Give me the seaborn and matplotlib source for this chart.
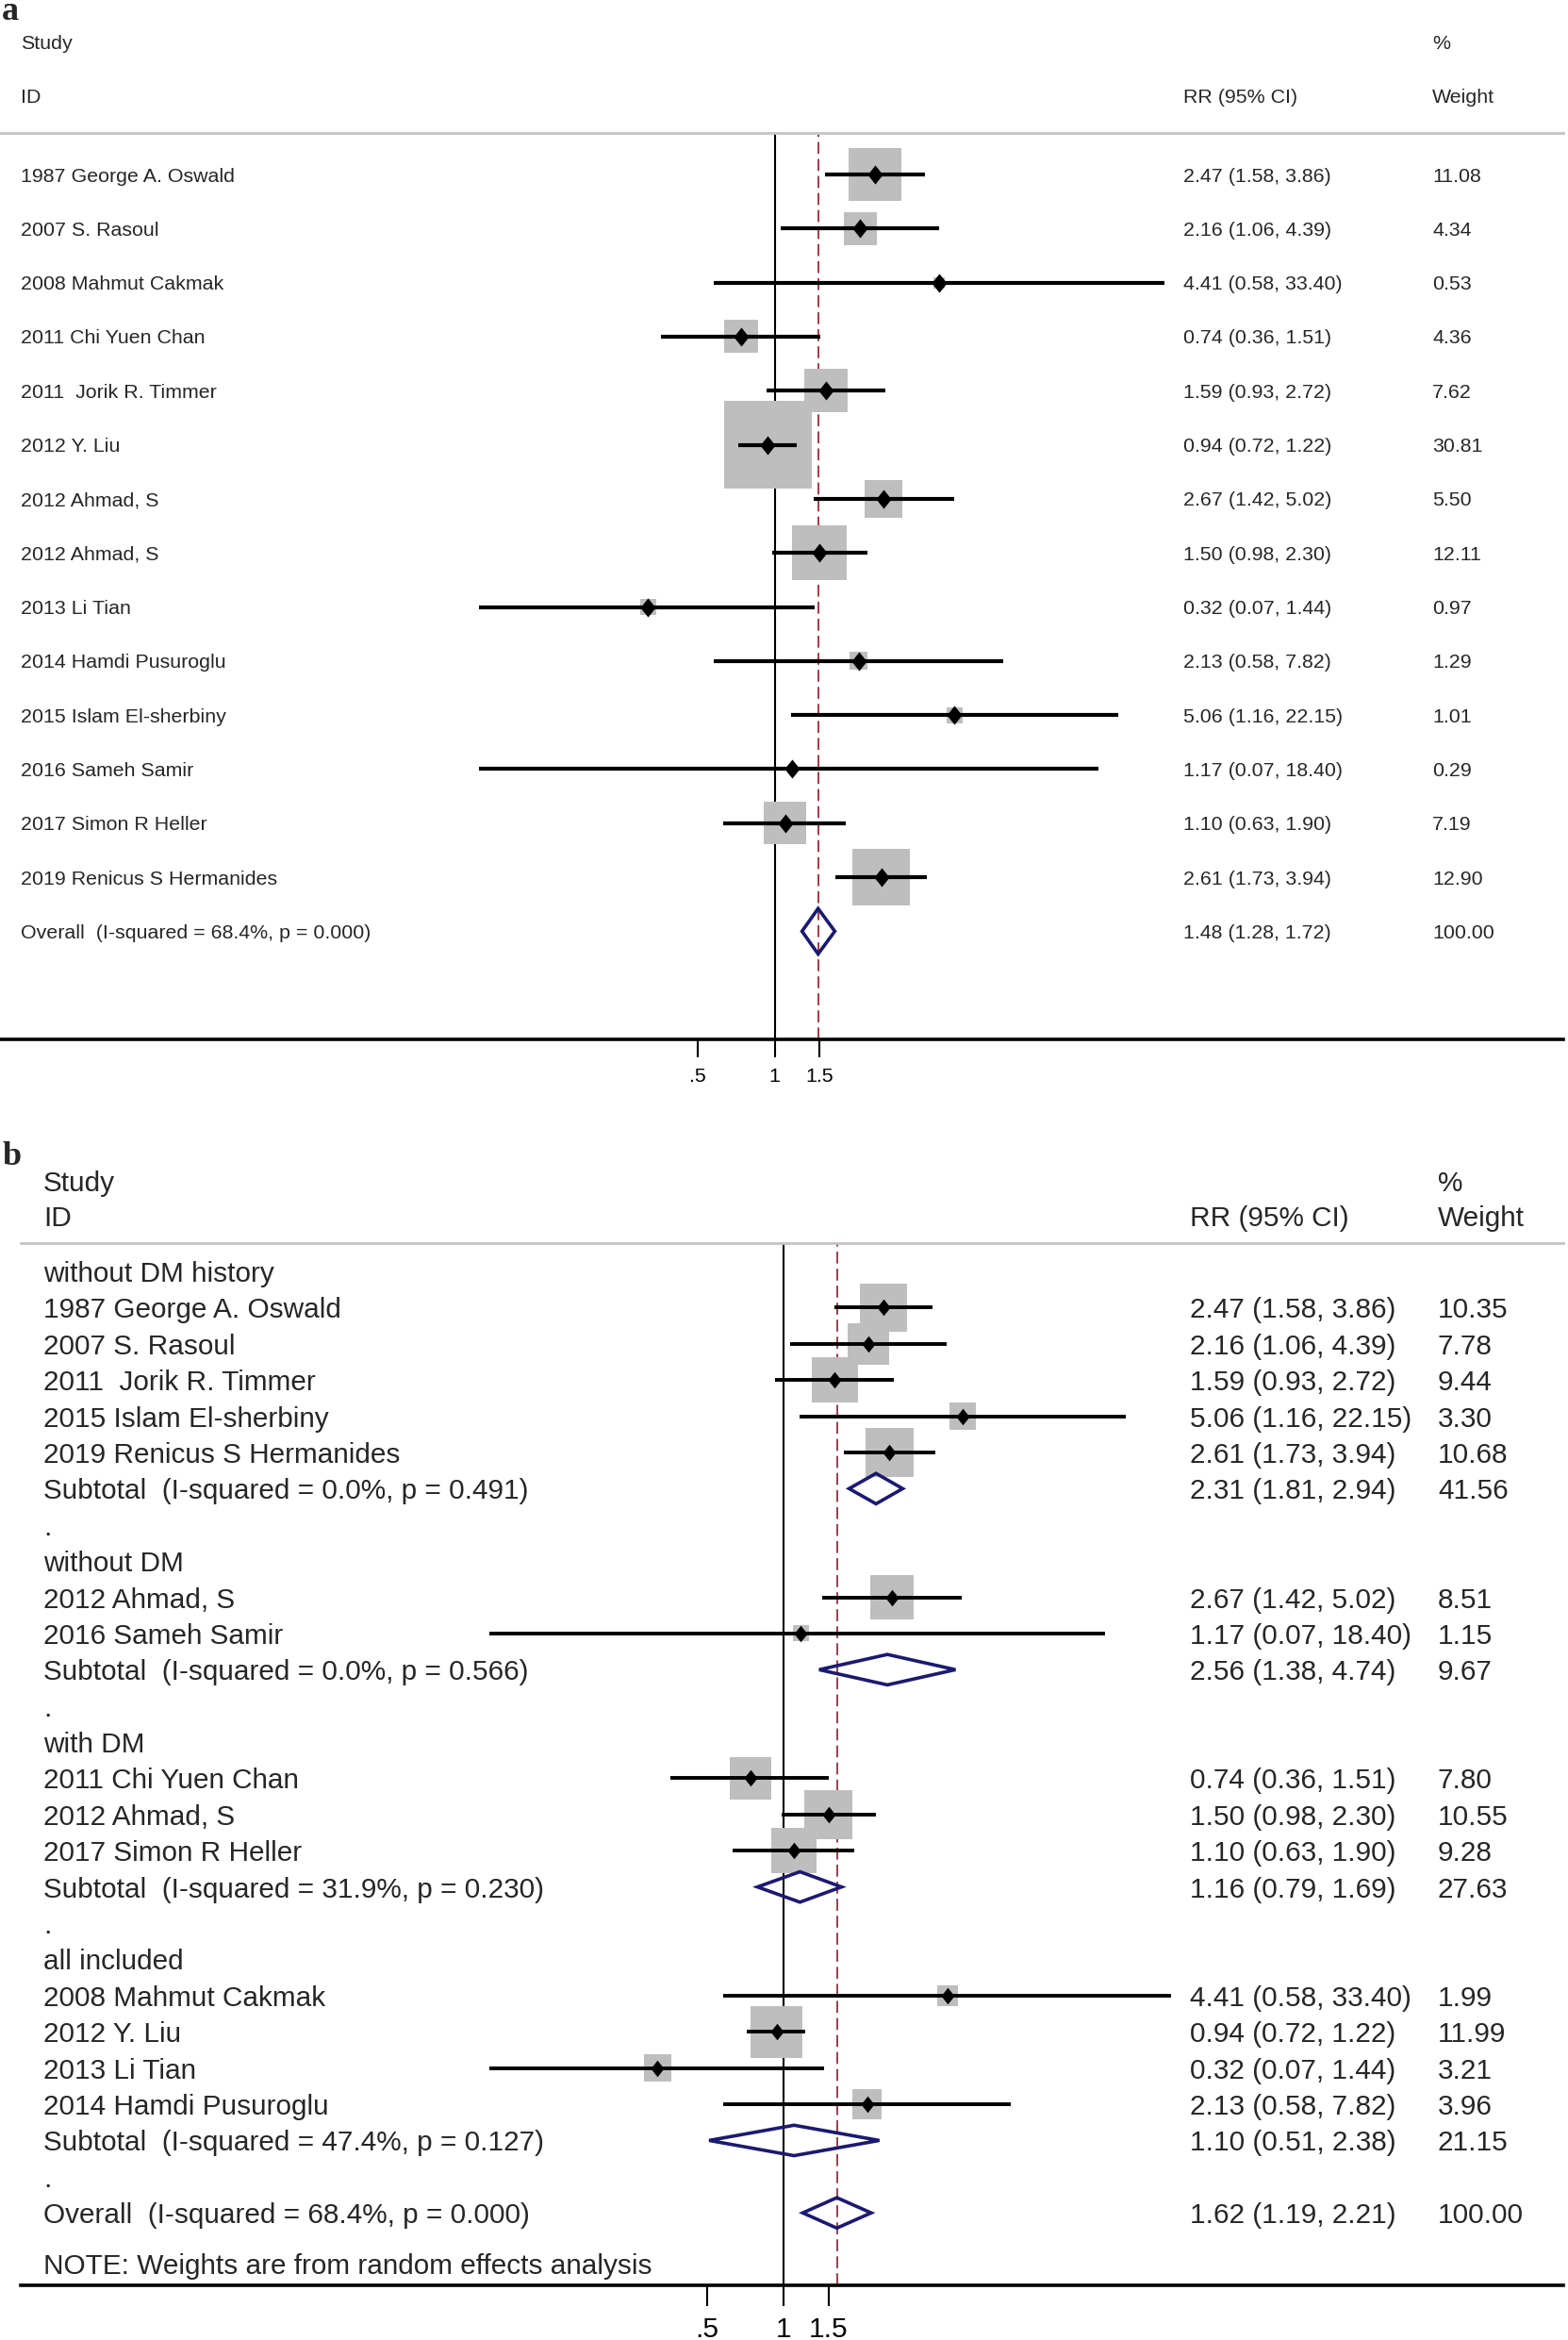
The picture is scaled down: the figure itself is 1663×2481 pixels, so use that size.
import numpy as np
import pandas as pd
import seaborn as sns
import matplotlib.pyplot as plt
from matplotlib.patches import Polygon
from matplotlib.transforms import blended_transform_factory

# ---- panel a: all studies ----
studies_a = ["1987 George A. Oswald", "2007 S. Rasoul", "2008 Mahmut Cakmak",
             "2011 Chi Yuen Chan", "2011  Jorik R. Timmer", "2012 Y. Liu",
             "2012 Ahmad, S", "2012 Ahmad, S", "2013 Li Tian", "2014 Hamdi Pusuroglu",
             "2015 Islam El-sherbiny", "2016 Sameh Samir", "2017 Simon R Heller",
             "2019 Renicus S Hermanides"]
rr_a = [2.47, 2.16, 4.41, 0.74, 1.59, 0.94, 2.67, 1.50, 0.32, 2.13, 5.06, 1.17, 1.10, 2.61]
lo_a = [1.58, 1.06, 0.58, 0.36, 0.93, 0.72, 1.42, 0.98, 0.07, 0.58, 1.16, 0.07, 0.63, 1.73]
hi_a = [3.86, 4.39, 33.40, 1.51, 2.72, 1.22, 5.02, 2.30, 1.44, 7.82, 22.15, 18.40, 1.90, 3.94]
wt_a = [11.08, 4.34, 0.53, 4.36, 7.62, 30.81, 5.50, 12.11, 0.97, 1.29, 1.01, 0.29, 7.19, 12.90]
overall_label_a = "Overall  (I-squared = 68.4%, p = 0.000)"
overall_a = [1.48, 1.28, 1.72, 100.00]

# ---- panel b: by subgroup ----
groups_b = ["without DM history", "without DM", "with DM", "all included"]
group_of_b = (["without DM history"] * 5 + ["without DM"] * 2 + ["with DM"] * 3
              + ["all included"] * 4)
studies_b = ["1987 George A. Oswald", "2007 S. Rasoul", "2011  Jorik R. Timmer",
             "2015 Islam El-sherbiny", "2019 Renicus S Hermanides",
             "2012 Ahmad, S", "2016 Sameh Samir",
             "2011 Chi Yuen Chan", "2012 Ahmad, S", "2017 Simon R Heller",
             "2008 Mahmut Cakmak", "2012 Y. Liu", "2013 Li Tian", "2014 Hamdi Pusuroglu"]
rr_b = [2.47, 2.16, 1.59, 5.06, 2.61, 2.67, 1.17, 0.74, 1.50, 1.10, 4.41, 0.94, 0.32, 2.13]
lo_b = [1.58, 1.06, 0.93, 1.16, 1.73, 1.42, 0.07, 0.36, 0.98, 0.63, 0.58, 0.72, 0.07, 0.58]
hi_b = [3.86, 4.39, 2.72, 22.15, 3.94, 5.02, 18.40, 1.51, 2.30, 1.90, 33.40, 1.22, 1.44, 7.82]
wt_b = [10.35, 7.78, 9.44, 3.30, 10.68, 8.51, 1.15, 7.80, 10.55, 9.28, 1.99, 11.99, 3.21, 3.96]
sub_i2 = ["0.0%", "0.0%", "31.9%", "47.4%"]
sub_p = ["0.491", "0.566", "0.230", "0.127"]
sub_rr = [2.31, 2.56, 1.16, 1.10]
sub_lo = [1.81, 1.38, 0.79, 0.51]
sub_hi = [2.94, 4.74, 1.69, 2.38]
sub_wt = [41.56, 9.67, 27.63, 21.15]
overall_label_b = "Overall  (I-squared = 68.4%, p = 0.000)"
overall_b = [1.62, 1.19, 2.21, 100.00]
note_b = "NOTE: Weights are from random effects analysis"

tick_vals = [0.5, 1, 1.5]
tick_labels = [".5", "1", "1.5"]

SQ_COLOR = "#bebebe"
NAVY = "#1a1a72"
RED = "#9e2a3a"
W, H = 1663, 2481
FS_A, FS_B = 15.4, 21.4


def ci_text(r, l, h):
    return f"{r:.2f} ({l:.2f}, {h:.2f})"


# rows of panel a
rows_a = pd.DataFrame({"label": studies_a, "rr": rr_a, "lo": lo_a, "hi": hi_a, "wt": wt_a})
rows_a["row"] = np.arange(len(rows_a))
summ_a = pd.DataFrame({"label": [overall_label_a], "rr": [overall_a[0]],
                       "lo": [overall_a[1]], "hi": [overall_a[2]], "wt": [overall_a[3]],
                       "row": [len(rows_a)]})
text_a = [(r.row, r.label, ci_text(r.rr, r.lo, r.hi), f"{r.wt:.2f}")
          for r in pd.concat([rows_a, summ_a]).itertuples()]

# rows of panel b
study_rows, summ_rows, text_b = [], [], []
df_b = pd.DataFrame({"group": group_of_b, "label": studies_b, "rr": rr_b,
                     "lo": lo_b, "hi": hi_b, "wt": wt_b})
r = 0
for gi, g in enumerate(groups_b):
    text_b.append((r, g, "", ""))
    r += 1
    for s in df_b[df_b.group == g].itertuples():
        study_rows.append(dict(row=r, rr=s.rr, lo=s.lo, hi=s.hi, wt=s.wt))
        text_b.append((r, s.label, ci_text(s.rr, s.lo, s.hi), f"{s.wt:.2f}"))
        r += 1
    lab = f"Subtotal  (I-squared = {sub_i2[gi]}, p = {sub_p[gi]})"
    summ_rows.append(dict(row=r, rr=sub_rr[gi], lo=sub_lo[gi], hi=sub_hi[gi]))
    text_b.append((r, lab, ci_text(sub_rr[gi], sub_lo[gi], sub_hi[gi]), f"{sub_wt[gi]:.2f}"))
    r += 1
    text_b.append((r, ".", "", ""))
    r += 1
summ_rows.append(dict(row=r, rr=overall_b[0], lo=overall_b[1], hi=overall_b[2]))
text_b.append((r, overall_label_b, ci_text(*overall_b[:3]), f"{overall_b[3]:.2f}"))
note_row = r + 1.4
rows_b = pd.DataFrame(study_rows)
summ_b = pd.DataFrame(summ_rows)

sns.set_theme(style="white")
plt.rcParams["font.family"] = ["Liberation Sans", "DejaVu Sans"]

fig = plt.figure(figsize=(W / 100, H / 100), dpi=100)


def draw_panel(ax, rows, summ, ref, fs, k_sq, dia_s, lw_ci, tick_len):
    d = rows.copy()
    d["x"] = np.log(d.rr)
    d["s"] = (k_sq * np.sqrt(d.wt) * 0.72) ** 2
    ax.axvline(0, color="black", lw=1.5, zorder=1)
    ax.axvline(np.log(ref), color=RED, lw=1.3, ls=(0, (7, 3)), zorder=1)
    sns.scatterplot(data=d, x="x", y="row", s=d["s"].values, marker="s",
                    color=SQ_COLOR, linewidth=0, legend=False, ax=ax, zorder=2)
    ax.hlines(d.row, np.log(d.lo), np.log(d.hi), color="black", lw=lw_ci, zorder=3)
    dverts = [(0, 1), (0.8, 0), (0, -1), (-0.8, 0), (0, 1)]
    sns.scatterplot(data=d, x="x", y="row", s=dia_s, marker=dverts,
                    color="black", linewidth=0, legend=False, ax=ax, zorder=4)
    for s in summ.itertuples():
        xs = np.log([s.lo, s.rr, s.hi, s.rr])
        ys = [s.row, s.row - 0.42, s.row, s.row + 0.42]
        ax.add_patch(Polygon(list(zip(xs, ys)), closed=True, fill=False,
                             edgecolor=NAVY, lw=2.6, zorder=5))
    ax.set_xlabel("")
    ax.set_ylabel("")
    ax.set_yticks([])
    ax.set_xticks(np.log(tick_vals))
    ax.set_xticklabels(tick_labels)
    ax.tick_params(axis="x", direction="out", length=tick_len, width=1.5,
                   pad=8, labelsize=fs, colors="black", bottom=True)
    for side in ["left", "right"]:
        ax.spines[side].set_visible(False)
    ax.spines["bottom"].set_color("black")
    ax.spines["bottom"].set_linewidth(2.6)
    ax.spines["top"].set_color("#c4c4c4")
    ax.spines["top"].set_linewidth(2.0)


def put_text(ax, tr, x, y, s, fs):
    ax.text(x / W, y, s, transform=tr, fontsize=fs, va="center_baseline", clip_on=False)


# panel a: axes from header line (y=141px) to axis line (y=1102px)
ax_a = fig.add_axes([0, 1 - 1102 / H, 1658 / W, (1102 - 141) / H])
ax_a.set_xlim(-821.5 / 117.8, (1658 - 821.5) / 117.8)
ax_a.set_ylim(16.0, -0.768)
draw_panel(ax_a, rows_a, summ_a, overall_a[0], FS_A, 16.8, 210, 3.0, 13.5)
tr_a = blended_transform_factory(fig.transFigure, ax_a.transData)
for row, lab, ci, wt in text_a:
    put_text(ax_a, tr_a, 22, row, lab, FS_A)
    put_text(ax_a, tr_a, 1255, row, ci, FS_A)
    put_text(ax_a, tr_a, 1519, row, wt, FS_A)
for y, a, b, c in [(-2.46, "Study", "", "%"), (-1.46, "ID", "RR (95% CI)", "Weight")]:
    put_text(ax_a, tr_a, 22, y, a, FS_A)
    put_text(ax_a, tr_a, 1255, y, b, FS_A)
    put_text(ax_a, tr_a, 1519, y, c, FS_A)
fig.text(2 / W, 1 - 21 / H, "a", fontsize=26, fontweight="bold",
         family="Liberation Serif", va="baseline")

# panel b: axes from header line (y=1318px) to axis line (y=2423px)
ax_b = fig.add_axes([22 / W, 1 - 2423 / H, (1658 - 22) / W, (2423 - 1318) / H])
ax_b.set_xlim(-(831 - 22) / 117.2, (1658 - 831) / 117.2)
ax_b.set_ylim(28.0, -0.78)
draw_panel(ax_b, rows_b, summ_b, overall_b[0], FS_B, 15.8, 160, 2.8, 16)
tr_b = blended_transform_factory(fig.transFigure, ax_b.transData)
for row, lab, ci, wt in text_b:
    put_text(ax_b, tr_b, 46, row, lab, FS_B)
    put_text(ax_b, tr_b, 1262, row, ci, FS_B)
    put_text(ax_b, tr_b, 1525, row, wt, FS_B)
put_text(ax_b, tr_b, 46, note_row, note_b, FS_B)
for y, a, b, c in [(-2.5, "Study", "", "%"), (-1.53, "ID", "RR (95% CI)", "Weight")]:
    put_text(ax_b, tr_b, 46, y, a, FS_B)
    put_text(ax_b, tr_b, 1262, y, b, FS_B)
    put_text(ax_b, tr_b, 1525, y, c, FS_B)
fig.text(3 / W, 1 - 1235 / H, "b", fontsize=26, fontweight="bold",
         family="Liberation Serif", va="baseline")

fig.savefig("out.png", dpi=100)
